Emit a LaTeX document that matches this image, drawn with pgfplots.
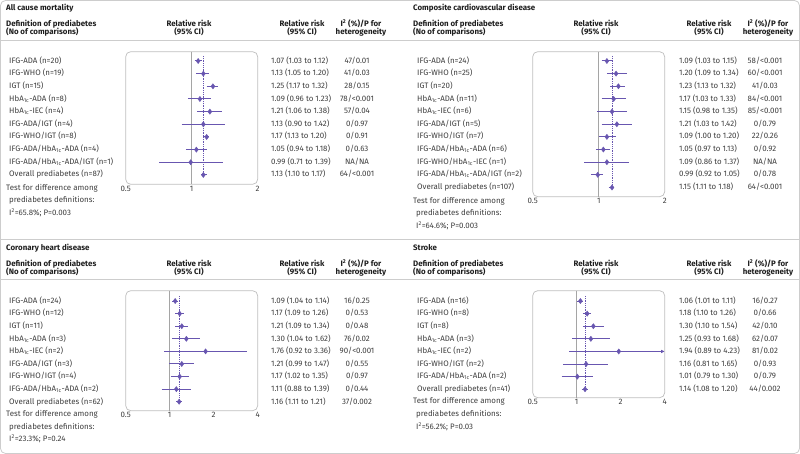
\documentclass[border=0pt]{standalone}
\usepackage{pgfplots}
\pgfplotsset{compat=1.18}
\usepackage{fontspec}
\setmainfont{Fira Sans}
\usetikzlibrary{arrows.meta}
\definecolor{fp}{RGB}{104,86,176}
\definecolor{txt}{RGB}{62,62,62}
\definecolor{hdr}{RGB}{30,30,30}
\definecolor{rulec}{RGB}{205,205,205}
\definecolor{boxc}{RGB}{190,190,190}
\definecolor{refc}{RGB}{165,165,165}
\newcommand{\hb}{HbA\textsubscript{1c}}
\newcommand{\fsz}{\fontsize{7.9}{8.4}\selectfont}
\tikzset{
  cil/.style={color=fp, line width=1.0pt},
  lab/.style={font=\fsz, text=txt, inner sep=0pt, text height=5.9pt, text depth=1.7pt},
  hd/.style={font=\fsz\bfseries, text=hdr, inner sep=0pt, text height=5.9pt, text depth=1.7pt},
}
\newcommand{\CI}[3]{\addplot[cil] coordinates {(#1,#3) (#2,#3)};}
\newcommand{\rowtxt}[6]{%
  \node[lab, anchor=west] at ({#1+9},{454-#2-(#3-1)*12.65}) {#4};
  \node[lab, anchor=west] at ({#1+271},{454-#2-(#3-1)*12.65}) {#5};
  \node[lab] at ({#1+357},{454-#2-(#3-1)*12.65}) {#6};
}
\newcommand{\headers}[3]{%
  \node[hd, anchor=west] at ({#1+6},{454-#2}) {#3};
  \node[hd, anchor=west] at ({#1+6},{454-#2-16.3}) {Definition of prediabetes};
  \node[hd, anchor=west] at ({#1+6},{454-#2-24.6}) {(No of comparisons)};
  \node[hd] at ({#1+189},{454-#2-16.3}) {Relative risk};
  \node[hd] at ({#1+189},{454-#2-24.6}) {(95\% CI)};
  \node[hd] at ({#1+302},{454-#2-16.3}) {Relative risk};
  \node[hd] at ({#1+302},{454-#2-24.6}) {(95\% CI)};
  \node[hd] at ({#1+361},{454-#2-16.3}) {I\textsuperscript{2} (\%)/P for};
  \node[hd] at ({#1+361},{454-#2-24.6}) {heterogeneity};
}
\newcommand{\testtxt}[3]{%
  \node[lab, anchor=west] at ({#1+6},{454-#2}) {Test for difference among};
  \node[lab, anchor=west] at ({#1+9},{454-#2-12.65}) {prediabetes definitions:};
  \node[lab, anchor=west] at ({#1+9},{454-#2-25.3}) {#3};
}
\begin{document}
\begin{tikzpicture}
\path[use as bounding box] (0pt,0pt) rectangle (800pt,454pt);
\begin{scope}[x=1pt,y=1pt]
\draw[rulec, line width=0.8pt, rounded corners=5pt] (0.5,0.5) rectangle (799.5,453.5);
\draw[rulec, line width=0.8pt] (0.5,413.5) -- (799.5,413.5);
\draw[rulec, line width=0.8pt] (0.5,214.5) -- (799.5,214.5);
\draw[rulec, line width=0.8pt] (0.5,174.7) -- (799.5,174.7);

\headers{0}{8.3}{All cause mortality}
\rowtxt{0}{61}{1}{IFG-ADA (n=20)}{1.07 (1.03 to 1.12)}{47/0.01}
\rowtxt{0}{61}{2}{IFG-WHO (n=19)}{1.13 (1.05 to 1.20)}{41/0.03}
\rowtxt{0}{61}{3}{IGT (n=15)}{1.25 (1.17 to 1.32)}{28/0.15}
\rowtxt{0}{61}{4}{\hb-ADA (n=8)}{1.09 (0.96 to 1.23)}{78/<0.001}
\rowtxt{0}{61}{5}{\hb-IEC (n=4)}{1.21 (1.06 to 1.38)}{57/0.04}
\rowtxt{0}{61}{6}{IFG-ADA/IGT (n=4)}{1.13 (0.90 to 1.42)}{0/0.97}
\rowtxt{0}{61}{7}{IFG-WHO/IGT (n=8)}{1.17 (1.13 to 1.20)}{0/0.91}
\rowtxt{0}{61}{8}{IFG-ADA/\hb-ADA (n=4)}{1.05 (0.94 to 1.18)}{0/0.63}
\rowtxt{0}{61}{9}{IFG-ADA/\hb-ADA/IGT (n=1)}{0.99 (0.71 to 1.39)}{NA/NA}
\rowtxt{0}{61}{10}{Overall prediabetes (n=87)}{1.13 (1.10 to 1.17)}{64/<0.001}
\testtxt{0}{188}{I\textsuperscript{2}=65.8\%; P=0.003}

\headers{407}{8.3}{Composite cardiovascular disease}
\rowtxt{408}{61}{1}{IFG-ADA (n=24)}{1.09 (1.03 to 1.15)}{58/<0.001}
\rowtxt{408}{61}{2}{IFG-WHO (n=25)}{1.20 (1.09 to 1.34)}{60/<0.001}
\rowtxt{408}{61}{3}{IGT (n=20)}{1.23 (1.13 to 1.32)}{41/0.03}
\rowtxt{408}{61}{4}{\hb-ADA (n=11)}{1.17 (1.03 to 1.33)}{84/<0.001}
\rowtxt{408}{61}{5}{\hb-IEC (n=6)}{1.15 (0.98 to 1.35)}{85/<0.001}
\rowtxt{408}{61}{6}{IFG-ADA/IGT (n=5)}{1.21 (1.03 to 1.42)}{0/0.79}
\rowtxt{408}{61}{7}{IFG-WHO/IGT (n=7)}{1.09 (1.00 to 1.20)}{22/0.26}
\rowtxt{408}{61}{8}{IFG-ADA/\hb-ADA (n=6)}{1.05 (0.97 to 1.13)}{0/0.92}
\rowtxt{408}{61}{9}{IFG-WHO/\hb-IEC (n=1)}{1.09 (0.86 to 1.37)}{NA/NA}
\rowtxt{408}{61}{10}{IFG-ADA/\hb-ADA/IGT (n=2)}{0.99 (0.92 to 1.05)}{0/0.78}
\rowtxt{408}{61}{11}{Overall prediabetes (n=107)}{1.15 (1.11 to 1.18)}{64/<0.001}
\testtxt{407}{201}{I\textsuperscript{2}=64.6\%; P=0.003}

\headers{0}{248}{Coronary heart disease}
\rowtxt{0}{301}{1}{IFG-ADA (n=24)}{1.09 (1.04 to 1.14)}{16/0.25}
\rowtxt{0}{301}{2}{IFG-WHO (n=12)}{1.17 (1.09 to 1.26)}{0/0.53}
\rowtxt{0}{301}{3}{IGT (n=11)}{1.21 (1.09 to 1.34)}{0/0.48}
\rowtxt{0}{301}{4}{\hb-ADA (n=3)}{1.30 (1.04 to 1.62)}{76/0.02}
\rowtxt{0}{301}{5}{\hb-IEC (n=2)}{1.76 (0.92 to 3.36)}{90/<0.001}
\rowtxt{0}{301}{6}{IFG-ADA/IGT (n=3)}{1.21 (0.99 to 1.47)}{0/0.55}
\rowtxt{0}{301}{7}{IFG-WHO/IGT (n=4)}{1.17 (1.02 to 1.35)}{0/0.97}
\rowtxt{0}{301}{8}{IFG-ADA/\hb-ADA (n=2)}{1.11 (0.88 to 1.39)}{0/0.44}
\rowtxt{0}{301}{9}{Overall prediabetes (n=62)}{1.16 (1.11 to 1.21)}{37/0.002}
\testtxt{0}{414.4}{I\textsuperscript{2}=23.3\%; P=0.24}

\headers{407}{248}{Stroke}
\rowtxt{408}{301}{1}{IFG-ADA (n=16)}{1.06 (1.01 to 1.11)}{16/0.27}
\rowtxt{408}{301}{2}{IFG-WHO (n=8)}{1.18 (1.10 to 1.26)}{0/0.66}
\rowtxt{408}{301}{3}{IGT (n=8)}{1.30 (1.10 to 1.54)}{42/0.10}
\rowtxt{408}{301}{4}{\hb-ADA (n=3)}{1.25 (0.93 to 1.68)}{62/0.07}
\rowtxt{408}{301}{5}{\hb-IEC (n=2)}{1.94 (0.89 to 4.23)}{81/0.02}
\rowtxt{408}{301}{6}{IFG-WHO/IGT (n=2)}{1.16 (0.81 to 1.65)}{0/0.93}
\rowtxt{408}{301}{7}{IFG-ADA/\hb-ADA (n=2)}{1.01 (0.79 to 1.30)}{0/0.79}
\rowtxt{408}{301}{8}{Overall prediabetes (n=41)}{1.14 (1.08 to 1.20)}{44/0.002}
\testtxt{407}{401.8}{I\textsuperscript{2}=56.2\%; P=0.03}
\end{scope}

% ---------------- All cause mortality axis
\begin{axis}[at={(125.7pt,269.7pt)}, anchor=south west,
  scale only axis, width=132pt, height=132.6pt, xmode=log,
  y dir=reverse, hide y axis, axis x line*=bottom, x axis line style={draw=none},
  major tick length=0pt, xticklabel style={font=\fsz, text=txt, inner sep=1.5pt},
  clip=false, xmin=0.5, xmax=2, ymin=0.265, ymax=10.74,
  xtick={0.5,1,2}, xticklabels={0.5,1,2}]
\draw[boxc, line width=0.7pt, rounded corners=5pt] (rel axis cs:0,0) rectangle (rel axis cs:1,1);
\addplot[refc, line width=0.8pt] coordinates {(1,0.265) (1,10.74)};
\addplot[fp, densely dotted, line width=0.8pt] coordinates {(1.13,0.6) (1.13,10)};
\CI{1.03}{1.12}{1}\CI{1.05}{1.20}{2}\CI{1.17}{1.32}{3}\CI{0.96}{1.23}{4}\CI{1.06}{1.38}{5}
\CI{0.90}{1.42}{6}\CI{1.13}{1.20}{7}\CI{0.94}{1.18}{8}\CI{0.71}{1.39}{9}\CI{1.10}{1.17}{10}
\addplot[only marks, mark=diamond*, mark size=2.6pt, color=fp] coordinates {(1.07,1) (1.13,2) (1.25,3) (1.09,4) (1.21,5) (1.13,6) (1.17,7) (1.05,8) (0.99,9) (1.13,10)};
\end{axis}

% ---------------- Composite CVD axis
\begin{axis}[at={(532.7pt,257.3pt)}, anchor=south west,
  scale only axis, width=132pt, height=145pt, xmode=log,
  y dir=reverse, hide y axis, axis x line*=bottom, x axis line style={draw=none},
  major tick length=0pt, xticklabel style={font=\fsz, text=txt, inner sep=1.5pt},
  clip=false, xmin=0.5, xmax=2, ymin=0.265, ymax=11.73,
  xtick={0.5,1,2}, xticklabels={0.5,1,2}]
\draw[boxc, line width=0.7pt, rounded corners=5pt] (rel axis cs:0,0) rectangle (rel axis cs:1,1);
\addplot[refc, line width=0.8pt] coordinates {(1,0.265) (1,11.73)};
\addplot[fp, densely dotted, line width=0.8pt] coordinates {(1.15,0.6) (1.15,11)};
\CI{1.03}{1.15}{1}\CI{1.09}{1.34}{2}\CI{1.13}{1.32}{3}\CI{1.03}{1.33}{4}\CI{0.98}{1.35}{5}
\CI{1.03}{1.42}{6}\CI{1.00}{1.20}{7}\CI{0.97}{1.13}{8}\CI{0.86}{1.37}{9}\CI{0.92}{1.05}{10}\CI{1.11}{1.18}{11}
\addplot[only marks, mark=diamond*, mark size=2.6pt, color=fp] coordinates {(1.09,1) (1.20,2) (1.23,3) (1.17,4) (1.15,5) (1.21,6) (1.09,7) (1.05,8) (1.09,9) (0.99,10) (1.15,11)};
\end{axis}

% ---------------- CHD axis
\begin{axis}[at={(125.7pt,43.3pt)}, anchor=south west,
  scale only axis, width=132pt, height=120pt, xmode=log,
  y dir=reverse, hide y axis, axis x line*=bottom, x axis line style={draw=none},
  major tick length=0pt, xticklabel style={font=\fsz, text=txt, inner sep=1.5pt},
  clip=false, xmin=0.5, xmax=4, ymin=0.18, ymax=9.71,
  xtick={0.5,1,2,4}, xticklabels={0.5,1,2,4}]
\draw[boxc, line width=0.7pt, rounded corners=5pt] (rel axis cs:0,0) rectangle (rel axis cs:1,1);
\addplot[refc, line width=0.8pt] coordinates {(1,0.18) (1,9.71)};
\addplot[fp, densely dotted, line width=0.8pt] coordinates {(1.16,0.6) (1.16,9)};
\CI{1.04}{1.14}{1}\CI{1.09}{1.26}{2}\CI{1.09}{1.34}{3}\CI{1.04}{1.62}{4}\CI{0.92}{3.36}{5}
\CI{0.99}{1.47}{6}\CI{1.02}{1.35}{7}\CI{0.88}{1.39}{8}\CI{1.11}{1.21}{9}
\addplot[only marks, mark=diamond*, mark size=2.6pt, color=fp] coordinates {(1.09,1) (1.17,2) (1.21,3) (1.30,4) (1.76,5) (1.21,6) (1.17,7) (1.11,8) (1.16,9)};
\end{axis}

% ---------------- Stroke axis
\begin{axis}[at={(532.7pt,56.3pt)}, anchor=south west,
  scale only axis, width=132pt, height=107pt, xmode=log,
  y dir=reverse, hide y axis, axis x line*=bottom, x axis line style={draw=none},
  major tick length=0pt, xticklabel style={font=\fsz, text=txt, inner sep=1.5pt},
  clip=false, xmin=0.5, xmax=4, ymin=0.18, ymax=8.67,
  xtick={0.5,1,2,4}, xticklabels={0.5,1,2,4}]
\draw[boxc, line width=0.7pt, rounded corners=5pt] (rel axis cs:0,0) rectangle (rel axis cs:1,1);
\addplot[refc, line width=0.8pt] coordinates {(1,0.18) (1,8.67)};
\addplot[fp, densely dotted, line width=0.8pt] coordinates {(1.14,0.6) (1.14,8)};
\CI{1.01}{1.11}{1}\CI{1.10}{1.26}{2}\CI{1.10}{1.54}{3}\CI{0.93}{1.68}{4}
\addplot[cil, -{Latex[length=3.5pt,width=3.5pt]}] coordinates {(0.89,5) (4,5)};
\CI{0.81}{1.65}{6}\CI{0.79}{1.30}{7}\CI{1.08}{1.20}{8}
\addplot[only marks, mark=diamond*, mark size=2.6pt, color=fp] coordinates {(1.06,1) (1.18,2) (1.30,3) (1.25,4) (1.94,5) (1.16,6) (1.01,7) (1.14,8)};
\end{axis}
\end{tikzpicture}
\end{document}
